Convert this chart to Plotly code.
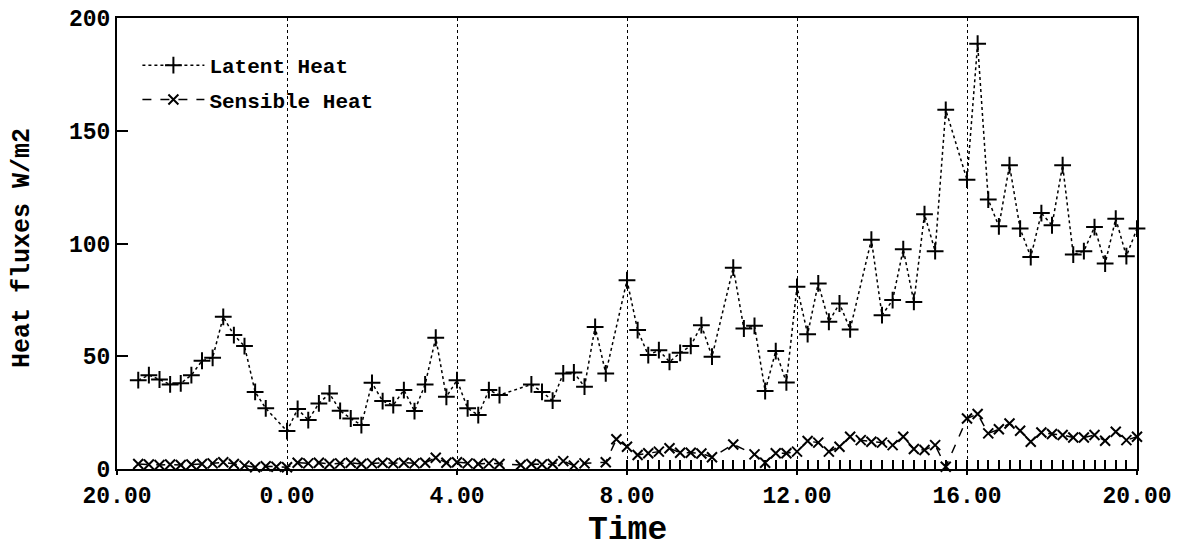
import plotly.graph_objects as go

# Hours elapsed since 20:00 (first evening) and measured fluxes (W/m2)
latent_t = [0.5, 0.75, 1.0, 1.25, 1.5, 1.75, 2.0, 2.25, 2.5, 2.75, 3.0, 3.25, 3.5,
            4.0, 4.25, 4.5, 4.75, 5.0, 5.25, 5.5, 5.75, 6.0, 6.25, 6.5, 6.75, 7.0,
            7.25, 7.5, 7.75, 8.0, 8.25, 8.5, 8.75, 9.0,
            9.75, 10.0, 10.25, 10.5, 10.75, 11.0, 11.25, 11.5,
            12.0, 12.25, 12.5, 12.75, 13.0, 13.25, 13.5, 13.75, 14.0,
            14.5, 14.75, 15.0, 15.25, 15.5, 15.75, 16.0, 16.25, 16.5, 16.75, 17.0, 17.25,
            17.75, 18.0, 18.25, 18.5, 18.75, 19.0, 19.25, 19.5,
            20.0, 20.25, 20.5, 20.75, 21.0, 21.25, 21.5, 21.75, 22.0, 22.25, 22.5,
            22.75, 23.0, 23.25, 23.5, 23.75, 24.0]
latent_v = [39.4, 41.6, 39.7, 37.5, 38.0, 41.6, 48.0, 49.3, 67.5, 59.4, 54.5, 34.2, 26.9,
            16.8, 26.6, 21.7, 29.1, 33.5, 25.8, 22.4, 19.5, 38.2, 30.1, 28.3, 35.0, 25.7,
            37.5, 58.2, 32.0, 39.4, 26.9, 23.9, 35.0, 32.8,
            37.5, 34.2, 30.3, 42.4, 42.8, 36.5, 63.0, 42.4,
            83.7, 61.6, 50.5, 52.7, 47.5, 51.5, 54.6, 63.8, 49.8,
            89.3, 62.3, 63.5, 34.6, 52.3, 38.4, 80.8, 59.8, 82.3, 65.3, 73.4, 61.9,
            101.7, 68.2, 74.9, 97.5, 74.1, 113.0, 96.6, 159.3,
            128.3, 188.6, 119.5, 107.6, 134.7, 106.6, 94.0, 113.5, 108.1, 134.7, 95.1,
            96.6, 107.3, 91.1, 111.0, 94.4, 106.6]

sensible_t = [0.5, 0.75, 1.0, 1.25, 1.5, 1.75, 2.0, 2.25, 2.5, 2.75, 3.0, 3.25, 3.5, 3.75,
              4.0, 4.25, 4.5, 4.75, 5.0, 5.25, 5.5, 5.75, 6.0, 6.25, 6.5, 6.75, 7.0,
              7.25, 7.5, 7.75, 8.0, 8.25, 8.5, 8.75, 9.0,
              9.5, 9.75, 10.0, 10.25, 10.5, 10.75, 11.0,
              11.5, 11.75, 12.0, 12.25, 12.5, 12.75, 13.0, 13.25, 13.5, 13.75, 14.0,
              14.5, 15.0, 15.25, 15.5, 15.75, 16.0, 16.25, 16.5, 16.75, 17.0, 17.25,
              17.5, 17.75, 18.0, 18.25, 18.5, 18.75, 19.0, 19.25, 19.5,
              20.0, 20.25, 20.5, 20.75, 21.0, 21.25, 21.5, 21.75, 22.0, 22.25, 22.5,
              22.75, 23.0, 23.25, 23.5, 23.75, 24.0]
sensible_v = [2.2, 2.0, 1.8, 2.0, 1.8, 2.0, 2.2, 2.5, 3.0, 2.2, 1.5, 0.8, 1.2, 1.0,
              0.8, 2.8, 2.5, 2.8, 2.2, 2.5, 2.8, 2.2, 2.5, 2.8, 2.5, 2.8, 2.5,
              2.8, 5.0, 2.8, 3.0, 2.5, 2.2, 2.5, 2.2,
              1.8, 2.2, 2.0, 2.2, 3.5, 1.5, 2.5,
              3.0, 13.2, 9.9, 6.2, 7.0, 7.7, 9.2, 7.2, 7.2, 6.9, 5.2,
              10.9, 6.5, 2.8, 7.0, 7.0, 7.7, 12.4, 11.7, 7.7, 9.9, 14.3,
              12.8, 12.1, 11.7, 10.6, 14.3, 8.9, 8.4, 10.6, 1.0,
              22.4, 24.4, 15.8, 17.6, 20.2, 17.0, 12.1, 16.2, 15.5, 15.1, 14.0,
              14.0, 15.1, 12.5, 16.5, 12.8, 14.3]

x_tickvals = [0, 4, 8, 12, 16, 20, 24]
x_ticktext = ["20.00", "0.00", "4.00", "8.00", "12.00", "16.00", "20.00"]
y_tickvals = [0, 50, 100, 150, 200]
minor_tick_range = [11.75, 24]  # span of the small inward ticks along the time axis
x_title = "Time"
y_title = "Heat fluxes W/m2"

FONT = "Liberation Mono"

fig = go.Figure()
# carrier trace for the secondary tick axis (drawn first, underneath)
fig.add_trace(go.Scatter(
    x=minor_tick_range, y=[None, None], xaxis="x2", yaxis="y",
    showlegend=False, hoverinfo="skip", mode="lines",
))
fig.add_trace(go.Scatter(
    x=latent_t, y=latent_v, name="Latent Heat", mode="lines+markers",
    line=dict(color="black", width=1.5, dash="dot"),
    marker=dict(symbol="cross-thin", size=12, color="black",
                line=dict(color="black", width=2)),
    legendgroup="a", cliponaxis=False,
))
fig.add_trace(go.Scatter(
    x=sensible_t, y=sensible_v, name="Sensible Heat", mode="lines+markers",
    line=dict(color="black", width=1.5, dash="dash"),
    marker=dict(symbol="x-thin", size=10, color="black",
                line=dict(color="black", width=2)),
    legendgroup="b", cliponaxis=False,
))

dom0 = minor_tick_range[0] / 24.0
fig.update_layout(
    width=1184, height=550,
    margin=dict(l=117, r=47, t=18, b=81, autoexpand=False),
    paper_bgcolor="white", plot_bgcolor="rgba(0,0,0,0)",
    font=dict(family=FONT, color="black", size=20, weight="bold"),
    showlegend=True,
    legend=dict(x=0.02, y=0.94, xanchor="left", yanchor="top",
                bgcolor="rgba(0,0,0,0)", borderwidth=0,
                font=dict(family=FONT, size=21, weight="bold"),
                itemwidth=62, tracegroupgap=4),
    xaxis=dict(
        range=[0, 24], tickmode="array", tickvals=x_tickvals, ticktext=x_ticktext,
        ticks="outside", ticklen=4, tickwidth=2, tickcolor="black",
        showline=True, linewidth=2, linecolor="black", mirror=True,
        showgrid=True, gridcolor="black", gridwidth=1, griddash="dot",
        zeroline=False, automargin=False,
        tickfont=dict(family=FONT, size=23, weight="bold"),
    ),
    xaxis2=dict(
        domain=[dom0, 1], range=minor_tick_range, anchor="y",
        tickmode="linear", tick0=minor_tick_range[0], dtick=0.25,
        ticks="inside", ticklen=9, tickwidth=1.5, tickcolor="black",
        showticklabels=False, showline=False, showgrid=False, zeroline=False,
        automargin=False,
    ),
    yaxis=dict(
        range=[0, 200], tickmode="array", tickvals=y_tickvals,
        ticks="inside", ticklen=11, tickwidth=2, tickcolor="black",
        showline=True, linewidth=2, linecolor="black", mirror=True,
        showgrid=False, zeroline=False, automargin=False,
        tickfont=dict(family=FONT, size=23, weight="bold"),
    ),
    annotations=[
        dict(text=x_title, xref="paper", yref="paper", x=0.5, y=0,
             xanchor="center", yanchor="middle", yshift=-61, showarrow=False,
             font=dict(family=FONT, size=33, weight="bold")),
        dict(text=y_title, xref="paper", yref="paper", x=0, y=0.49,
             xanchor="center", yanchor="middle", xshift=-95, textangle=-90,
             showarrow=False, font=dict(family=FONT, size=25, weight="bold")),
    ],
)

fig.write_html("out.html")
